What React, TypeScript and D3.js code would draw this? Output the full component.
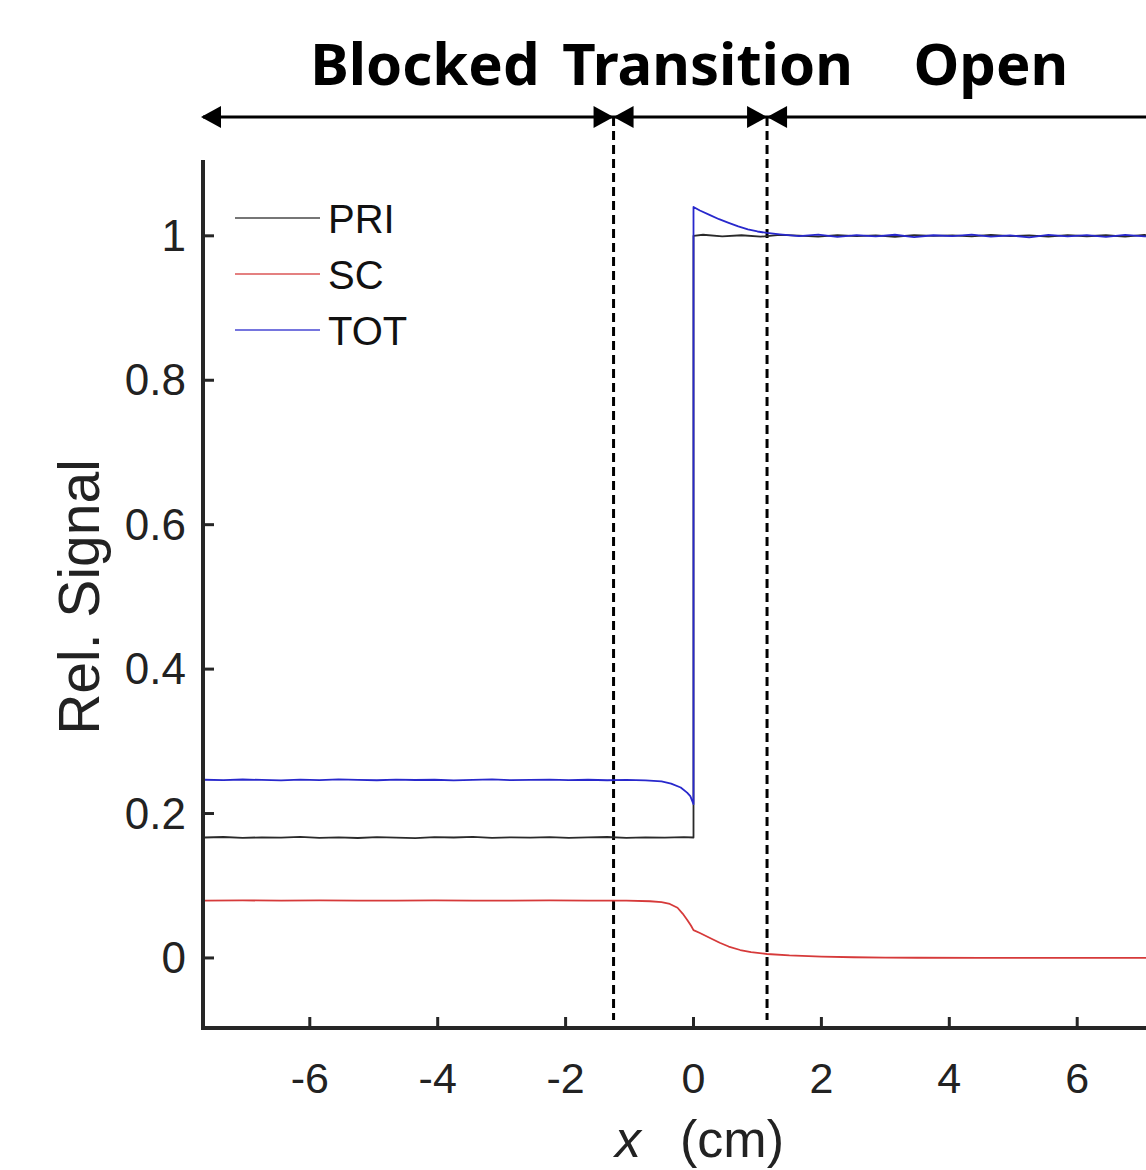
import React from 'react';
import * as d3 from 'd3';

// ---------- data ----------
const xTicks = [-6, -4, -2, 0, 2, 4, 6];
const yTicks = [0, 0.2, 0.4, 0.6, 0.8, 1];
const yTickLabels = ['0', '0.2', '0.4', '0.6', '0.8', '1'];

const regionLabels = ['Blocked', 'Transition', 'Open'];
const regionLabelX = [-4.2, 0.22, 4.65];
const boundaries = [-1.25, 1.15];

const legendNames = ['PRI', 'SC', 'TOT'];
const seriesColors = ['#2a2a2a', '#d63a3a', '#2828cc'];

const priX = [-7.65, -7.35, -7.05, -6.75, -6.45, -6.15, -5.85, -5.55, -5.25, -4.95, -4.65, -4.35, -4.05, -3.75, -3.45, -3.15, -2.85, -2.55, -2.25, -1.95, -1.65, -1.35, -1.05, -0.75, -0.45, -0.15, 0, 0, 0.15, 0.45, 0.75, 1.05, 1.35, 1.65, 1.95, 2.25, 2.55, 2.85, 3.15, 3.45, 3.75, 4.05, 4.35, 4.65, 4.95, 5.25, 5.55, 5.85, 6.15, 6.45, 6.75, 7.05, 7.35, 7.65];
const priY = [0.1668, 0.1675, 0.1662, 0.1671, 0.1665, 0.1678, 0.1664, 0.167, 0.1661, 0.1674, 0.1667, 0.166, 0.1673, 0.1668, 0.1676, 0.1663, 0.167, 0.1665, 0.1672, 0.1662, 0.1669, 0.1675, 0.1664, 0.1671, 0.1666, 0.1673, 0.1668, 1.0, 1.0015, 0.9992, 1.0008, 0.9988, 1.0012, 1.0004, 0.999, 1.001, 0.9995, 1.0006, 0.9987, 1.0011, 0.9998, 1.0007, 0.9991, 1.0013, 0.9996, 1.0005, 0.9989, 1.0009, 0.9994, 1.0008, 0.999, 1.0012, 0.9997, 1.0004];

const totX = [-7.65, -7.35, -7.05, -6.75, -6.45, -6.15, -5.85, -5.55, -5.25, -4.95, -4.65, -4.35, -4.05, -3.75, -3.45, -3.15, -2.85, -2.55, -2.25, -1.95, -1.65, -1.35, -1.05, -0.75, -0.5, -0.35, -0.2, -0.1, -0.05, 0, 0, 0.1, 0.25, 0.4, 0.55, 0.7, 0.85, 1.0, 1.15, 1.35, 1.65, 1.95, 2.25, 2.55, 2.85, 3.15, 3.45, 3.75, 4.05, 4.35, 4.65, 4.95, 5.25, 5.55, 5.85, 6.15, 6.45, 6.75, 7.05, 7.35, 7.65];
const totY = [0.2468, 0.2462, 0.2471, 0.2465, 0.246, 0.2469, 0.2463, 0.2472, 0.2466, 0.2461, 0.247, 0.2464, 0.2468, 0.2459, 0.2467, 0.2473, 0.2462, 0.2466, 0.247, 0.2463, 0.2468, 0.2461, 0.2466, 0.2458, 0.2445, 0.2415, 0.236, 0.229, 0.224, 0.213, 1.04, 1.035, 1.029, 1.023, 1.018, 1.013, 1.009, 1.006, 1.004, 1.002, 0.9995, 1.0018, 0.9985, 1.001, 0.9992, 1.0015, 0.9982, 1.0008, 0.9996, 1.0016, 0.9988, 1.0006, 0.9979, 1.0012, 0.9993, 1.0009, 0.9986, 1.0014, 0.9991, 1.0005, 0.9998];

const scX = [-7.65, -7.05, -6.45, -5.85, -5.25, -4.65, -4.05, -3.45, -2.85, -2.25, -1.65, -1.05, -0.68, -0.5, -0.37, -0.25, -0.17, -0.1, -0.04, 0, 0.1, 0.25, 0.41, 0.55, 0.73, 0.9, 1.15, 1.5, 2.0, 2.5, 3.0, 3.5, 4.5, 5.5, 6.5, 7.65];
const scY = [0.0795, 0.0797, 0.0794, 0.0796, 0.0795, 0.0793, 0.0796, 0.0794, 0.0795, 0.0796, 0.0794, 0.0793, 0.0785, 0.0772, 0.0748, 0.0695, 0.0615, 0.053, 0.045, 0.0385, 0.0345, 0.028, 0.021, 0.0158, 0.011, 0.0082, 0.0055, 0.0035, 0.0018, 0.001, 0.0005, 0.0003, 0.0002, 0.0001, 0, 0];

const seriesX = [priX, scX, totX];
const seriesY = [priY, scY, totY];

export default function App() {
  const W = 1146;
  const H = 1170;
  const x = d3.scaleLinear().domain([-7.67, 7.67]).range([203, 1184]);
  const y = d3.scaleLinear().domain([-0.097, 1.105]).range([1028, 160]);
  const line = d3
    .line<[number, number]>()
    .x((d) => x(d[0]))
    .y((d) => y(d[1]));

  const axisColor = '#262626';
  const arrowY = 117;
  const headL = 20;
  const headH = 11;
  const leftEnd = x(-7.67);
  const b0 = x(boundaries[0]);
  const b1 = x(boundaries[1]);

  const headRight = (tip: number) => `M${tip},${arrowY} L${tip - headL},${arrowY - headH} L${tip - headL},${arrowY + headH} Z`;
  const headLeft = (tip: number) => `M${tip},${arrowY} L${tip + headL},${arrowY - headH} L${tip + headL},${arrowY + headH} Z`;

  return (
    <svg width={W} height={H} style={{ position: 'absolute', left: 0, top: 0, background: '#fff' }}>
      {/* region titles */}
      {regionLabels.map((t, i) => (
        <text
          key={t}
          x={x(regionLabelX[i])}
          y={85}
          textAnchor="middle"
          fontFamily="'Noto Sans', 'Open Sans', sans-serif"
          fontWeight="bold"
          fontSize={58}
          fill="#000"
        >
          {t}
        </text>
      ))}
      {/* arrow line */}
      <line x1={leftEnd} x2={W + 10} y1={arrowY} y2={arrowY} stroke="#000" strokeWidth={3} />
      <path d={headLeft(leftEnd - 2)} fill="#000" />
      <path d={headRight(b0)} fill="#000" />
      <path d={headLeft(b0)} fill="#000" />
      <path d={headRight(b1)} fill="#000" />
      <path d={headLeft(b1)} fill="#000" />
      {/* dashed boundaries */}
      {boundaries.map((b) => (
        <line key={b} x1={x(b)} x2={x(b)} y1={arrowY} y2={1020} stroke="#000" strokeWidth={3} strokeDasharray="9,5" />
      ))}
      {/* series */}
      {seriesX.map((xs, i) => (
        <path
          key={legendNames[i]}
          d={line(xs.map((v, j) => [v, seriesY[i][j]] as [number, number])) || ''}
          fill="none"
          stroke={seriesColors[i]}
          strokeWidth={1.8}
          strokeLinejoin="round"
        />
      ))}
      {/* axes */}
      <line x1={x(-7.67)} x2={x(-7.67)} y1={y(1.105)} y2={y(-0.097) + 2} stroke={axisColor} strokeWidth={4} />
      <line x1={x(-7.67) - 2} x2={W + 10} y1={y(-0.097)} y2={y(-0.097)} stroke={axisColor} strokeWidth={4} />
      {xTicks.map((t) => (
        <g key={'x' + t}>
          <line x1={x(t)} x2={x(t)} y1={y(-0.097)} y2={y(-0.097) - 11} stroke={axisColor} strokeWidth={3} />
          <text x={x(t)} y={1093} textAnchor="middle" fontFamily="'Liberation Sans', Arial, sans-serif" fontSize={43} fill="#222">
            {t}
          </text>
        </g>
      ))}
      {yTicks.map((t, i) => (
        <g key={'y' + t}>
          <line x1={x(-7.67)} x2={x(-7.67) + 11} y1={y(t)} y2={y(t)} stroke={axisColor} strokeWidth={3} />
          <text x={186} y={y(t) + 15} textAnchor="end" fontFamily="'Liberation Sans', Arial, sans-serif" fontSize={44} fill="#222">
            {yTickLabels[i]}
          </text>
        </g>
      ))}
      {/* axis labels */}
      <text
        transform={`translate(99, 597) rotate(-90)`}
        textAnchor="middle"
        fontFamily="'Liberation Sans', Arial, sans-serif"
        fontSize={57}
        fill="#222"
      >
        Rel. Signal
      </text>
      <text x={628} y={1157} textAnchor="middle" fontFamily="'Liberation Sans', Arial, sans-serif" fontStyle="italic" fontSize={52} fill="#222">
        x
      </text>
      <text x={680} y={1157} fontFamily="'Liberation Sans', Arial, sans-serif" fontSize={52} fill="#222">
        (cm)
      </text>
      {/* legend */}
      {legendNames.map((n, i) => (
        <g key={'lg' + n}>
          <line x1={235} x2={320} y1={218 + i * 56} y2={218 + i * 56} stroke={seriesColors[i]} strokeWidth={1.6} opacity={0.85} />
          <text x={328} y={218 + i * 56 + 15} fontFamily="'Liberation Sans', Arial, sans-serif" fontSize={40} fill="#111">
            {n}
          </text>
        </g>
      ))}
    </svg>
  );
}
